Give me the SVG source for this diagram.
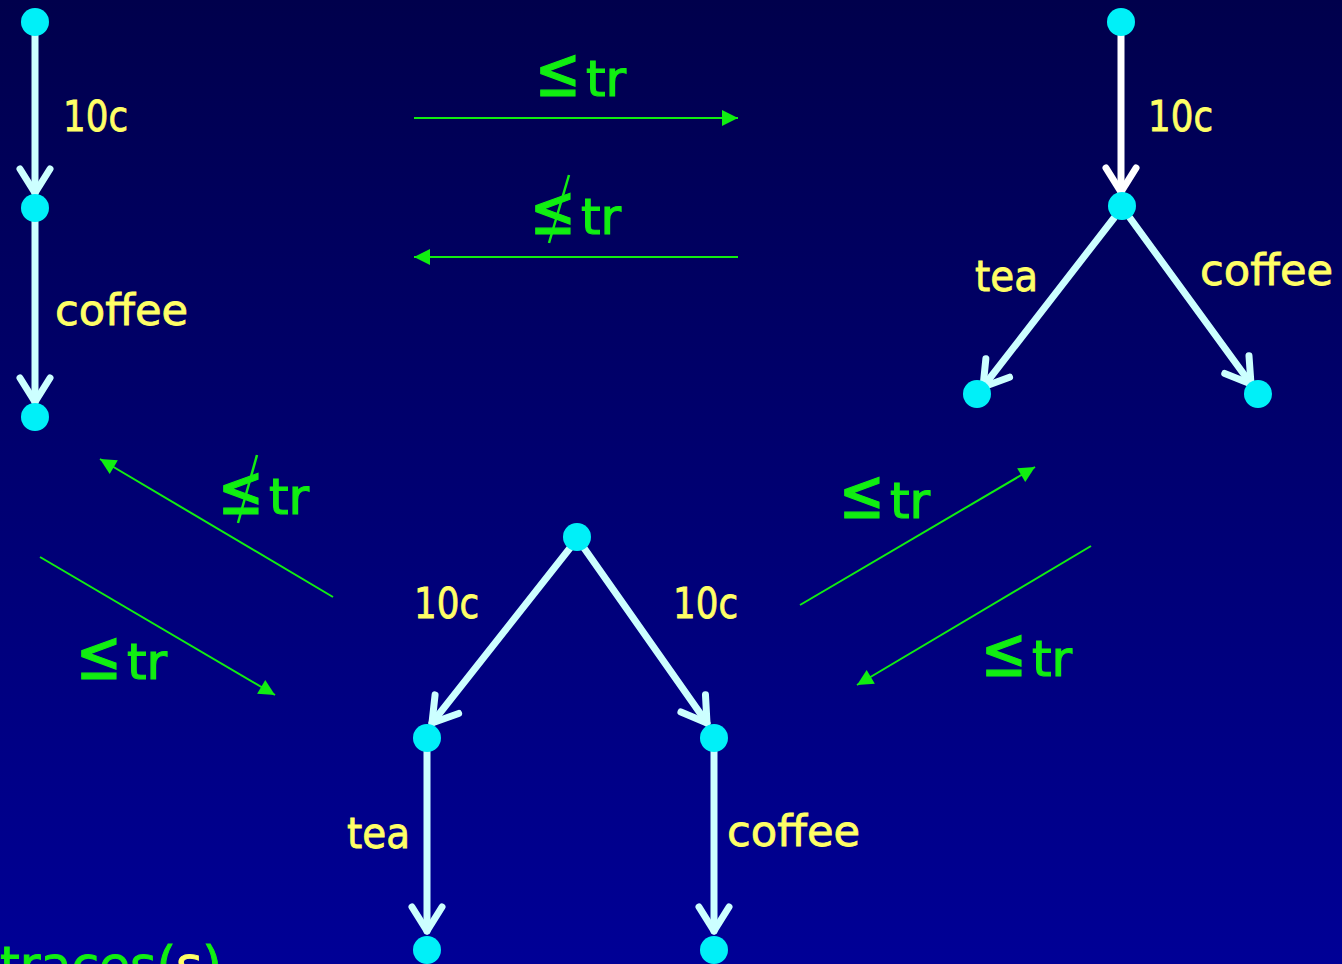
<svg xmlns="http://www.w3.org/2000/svg" width="1342" height="964" viewBox="0 0 1342 964">
<defs>
<linearGradient id="bg" x1="0" y1="0" x2="0" y2="1">
<stop offset="0" stop-color="#00004c"/>
<stop offset="1" stop-color="#000096"/>
</linearGradient>
<marker id="chevC" markerUnits="userSpaceOnUse" orient="auto" markerWidth="60" markerHeight="60" viewBox="-40 -30 60 60" refX="0" refY="0" overflow="visible">
<path d="M-24 -15 L0 0 L-24 15" fill="none" stroke="#ccffff" stroke-width="7" stroke-linecap="round" stroke-linejoin="round"/>
</marker>
<marker id="chevW" markerUnits="userSpaceOnUse" orient="auto" markerWidth="60" markerHeight="60" viewBox="-40 -30 60 60" refX="0" refY="0" overflow="visible">
<path d="M-24 -15 L0 0 L-24 15" fill="none" stroke="#ffffff" stroke-width="7" stroke-linecap="round" stroke-linejoin="round"/>
</marker>
<marker id="tri" markerUnits="userSpaceOnUse" orient="auto" markerWidth="30" markerHeight="30" viewBox="-20 -10 30 20" refX="0" refY="0" overflow="visible">
<path d="M0 0 L-16 -8 L-16 8 Z" fill="#11ee11"/>
</marker>
</defs>
<style>
.edge{stroke:#ccffff;stroke-width:7;fill:none;stroke-linecap:round;marker-end:url(#chevC)}
.edgeW{stroke:#ffffff;stroke-width:7;fill:none;stroke-linecap:round;marker-end:url(#chevW)}
.rel{stroke:#11ee11;stroke-width:2;fill:none;marker-end:url(#tri)}
.slash{stroke:#11ee11;stroke-width:2.5}
.node{fill:#00f0f8}
.lbl{fill:#ffff66;stroke:#ffff66;stroke-width:0.8;font-family:"DejaVu Sans",sans-serif;font-size:42px}
.le{fill:#11ee11;stroke:#11ee11;stroke-width:1.2;font-family:"DejaVu Sans",sans-serif;font-size:70px}
.rt{fill:#11ee11;stroke:#11ee11;stroke-width:1.2;font-family:"DejaVu Sans",sans-serif;font-size:50px}
.tr{fill:#11ee11;stroke:#11ee11;stroke-width:1;font-family:"DejaVu Sans",sans-serif;font-size:50px}
</style>
<rect x="0" y="0" width="1342" height="964" fill="url(#bg)"/>

<g id="connectors">
<line class="edge" x1="35" y1="36" x2="35" y2="193"/>
<line class="edge" x1="35" y1="222" x2="35" y2="402"/>
<line class="edgeW" x1="1121" y1="36" x2="1121" y2="192"/>
<line class="edge" x1="1114" y1="218" x2="983" y2="387"/>
<line class="edge" x1="1130" y1="218" x2="1251" y2="384"/>
<line class="edge" x1="570" y1="548" x2="432" y2="723"/>
<line class="edge" x1="584" y1="548" x2="707" y2="723"/>
<line class="edge" x1="427" y1="752" x2="427" y2="931"/>
<line class="edge" x1="714" y1="752" x2="714" y2="931"/>

<line class="rel" x1="414" y1="118" x2="738" y2="118"/>
<line class="rel" x1="738" y1="257" x2="414" y2="257"/>
<line class="rel" x1="333" y1="597" x2="100" y2="459"/>
<line class="rel" x1="40" y1="557" x2="275" y2="695"/>
<line class="rel" x1="800" y1="605" x2="1035" y2="467"/>
<line class="rel" x1="1091" y1="546" x2="857" y2="685"/>
</g>

<g id="n_l1"><circle class="node" cx="35" cy="22" r="14"/></g>
<g id="n_l2"><circle class="node" cx="35" cy="208" r="14"/></g>
<g id="n_l3"><circle class="node" cx="35" cy="417" r="14"/></g>
<g id="n_r1"><circle class="node" cx="1121" cy="22" r="14"/></g>
<g id="n_r2"><circle class="node" cx="1122" cy="206" r="14"/></g>
<g id="n_r3"><circle class="node" cx="977" cy="394" r="14"/></g>
<g id="n_r4"><circle class="node" cx="1258" cy="394" r="14"/></g>
<g id="n_m1"><circle class="node" cx="577" cy="537" r="14"/></g>
<g id="n_m2"><circle class="node" cx="427" cy="738" r="14"/></g>
<g id="n_m3"><circle class="node" cx="714" cy="738" r="14"/></g>
<g id="n_m4"><circle class="node" cx="427" cy="950" r="14"/></g>
<g id="n_m5"><circle class="node" cx="714" cy="950" r="14"/></g>

<g id="labels">
<text class="lbl" x="63" y="131" textLength="65" lengthAdjust="spacingAndGlyphs">10c</text>
<text class="lbl" x="55" y="325" textLength="133" lengthAdjust="spacingAndGlyphs">coffee</text>
<text class="lbl" x="1148" y="131" textLength="65" lengthAdjust="spacingAndGlyphs">10c</text>
<text class="lbl" x="975" y="291" textLength="63" lengthAdjust="spacingAndGlyphs">tea</text>
<text class="lbl" x="1200" y="285" textLength="133" lengthAdjust="spacingAndGlyphs">coffee</text>
<text class="lbl" x="414" y="618" textLength="65" lengthAdjust="spacingAndGlyphs">10c</text>
<text class="lbl" x="673" y="618" textLength="65" lengthAdjust="spacingAndGlyphs">10c</text>
<text class="lbl" x="347" y="848" textLength="63" lengthAdjust="spacingAndGlyphs">tea</text>
<text class="lbl" x="727" y="846" textLength="133" lengthAdjust="spacingAndGlyphs">coffee</text>
</g>

<g id="rel-top">
<text class="le" x="535" y="96" textLength="46" lengthAdjust="spacingAndGlyphs">≤</text>
<text class="rt" x="586" y="96">tr</text>
</g>
<g id="rel-top-not">
<text class="le" x="530" y="234" textLength="46" lengthAdjust="spacingAndGlyphs">≤</text>
<text class="rt" x="581" y="234">tr</text>
<line class="slash" x1="569" y1="175" x2="549" y2="243"/>
</g>
<g id="rel-left-not">
<text class="le" x="218" y="514" textLength="46" lengthAdjust="spacingAndGlyphs">≤</text>
<text class="rt" x="269" y="514">tr</text>
<line class="slash" x1="257" y1="455" x2="238" y2="523"/>
</g>
<g id="rel-right-up">
<text class="le" x="839" y="518" textLength="46" lengthAdjust="spacingAndGlyphs">≤</text>
<text class="rt" x="890" y="518">tr</text>
</g>
<g id="rel-left-down">
<text class="le" x="76" y="679" textLength="46" lengthAdjust="spacingAndGlyphs">≤</text>
<text class="rt" x="127" y="679">tr</text>
</g>
<g id="rel-right-down">
<text class="le" x="981" y="676" textLength="46" lengthAdjust="spacingAndGlyphs">≤</text>
<text class="rt" x="1032" y="676">tr</text>
</g>

<text class="tr" x="0" y="982" textLength="222" lengthAdjust="spacingAndGlyphs">traces(<tspan fill="#ffff66" stroke="#ffff66">s</tspan>)</text>
</svg>
